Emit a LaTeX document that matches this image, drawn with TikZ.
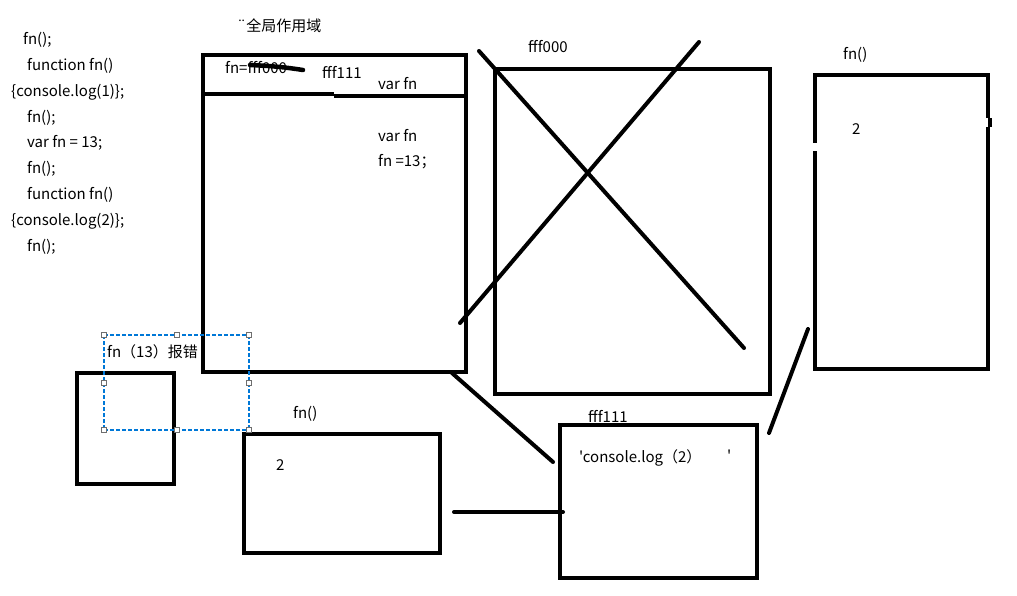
\documentclass[tikz,border=0pt]{standalone}
\usepackage{fontspec}
\newfontfamily\cjk{Noto Sans CJK SC}
\usetikzlibrary{calc}
\definecolor{selblue}{RGB}{0,120,215}
\definecolor{handlegray}{RGB}{110,110,110}

\tikzset{
  box/.style={draw,line width=4.5pt,inner sep=0pt,outer sep=0pt},
  link/.style={line width=4pt,line cap=round},
  txt/.style={anchor=west,inner sep=0pt,font=\cjk\fontsize{15}{17}\selectfont},
  seldash/.style={draw=selblue,dash pattern=on 4pt off 2pt,line width=1.1pt},
  handle/.style={draw=handlegray,fill=white,line width=0.8pt,minimum size=5pt,inner sep=0pt}
}

\begin{document}
\begin{tikzpicture}[x=1pt,y=-1pt]
\useasboundingbox (0,0) rectangle (1017,595);
% code on the left
\foreach \y/\x/\t [count=\i] in {40/23/{fn();},66/27/{function fn()},92/11/{\{console.log(1)\};},118/27/{fn();},143/27/{var fn = 13;},169/27/{fn();},195/27/{function fn()},221/11/{\{console.log(2)\};},247/27/{fn();}}
  \node[txt] (code\i) at (\x,\y) {\t};
% boxes
\node[box,minimum width=263,minimum height=317] (global) at (334.5,213.5) {};
\node[box,minimum width=275,minimum height=325] (old) at (632.5,231.5) {};
\node[box,minimum width=173,minimum height=294] (fnright) at (901.5,222) {};
\node[box,minimum width=197,minimum height=153] (heap) at (658.5,501.5) {};
\node[box,minimum width=196,minimum height=119] (fnmid) at (342,493.5) {};
\node[box,minimum width=97,minimum height=111] (small) at (125.5,428.5) {};
\draw[line width=4.5pt] (203,94)--(334,94) (334,96)--(466,96);
\draw[white,line width=6pt] (815,143)--(815,151);
\fill[white] (984,118) rectangle (987.5,127);\fill (987.5,118) rectangle (992,127);
% labels
\node[txt] (gtitle) at (237,26) {¨全局作用域};
\node[txt] (gfn) at (225,68) {fn=fff000};
\draw[line width=4.5pt,line cap=round] (250,65) .. controls (275,66) and (290,68) .. (303,70);
\node[txt] (gnew) at (322,72) {fff111};
\node[txt] (gvar) at (378,84) {var fn};
\node[txt] (gvar2) at (378,136) {var fn};
\node[txt] (gset) at (378,162) {fn =13；};
\node[txt] (oldlbl) at (528,47) {fff000};
\node[txt] (rlbl) at (843,55) {fn()};
\node[txt] (rval) at (852,129) {2};
\node[txt] (hlbl) at (588,416) {fff111};
\node[txt] (hbody) at (579,458) {'console.log（2）};
\node[txt] (htick) at (727,456) {'};
\node[txt] (mlbl) at (293,414) {fn()};
\node[txt] (mval) at (276,465) {2};
\node[txt] (err) at (107,352) {fn（13）报错};
% crossed out
\draw[link] ($(old.north west)+(-16,-18)$) -- ($(old.south east)+(-26,-46)$);
\draw[link] ($(old.north east)+(-71,-27)$) -- ($(old.south west)+(-35,-71)$);
% connectors
\draw[link] ($(global.south east)+(-14,1)$) -- ($(heap.north west)+(-7,37)$);
\draw[link] ($(fnmid.east)+(14,18.5)$) -- ($(heap.west)+(3,10.5)$);
\draw[link] ($(fnright.south west)+(-7,-40)$) -- ($(heap.north east)+(12,8)$);
% selection frame
\coordinate (sel1) at (104,335);\coordinate (sel2) at (249,335);
\coordinate (sel3) at (249,430);\coordinate (sel4) at (104,430);
\draw[seldash] (sel1)--(sel2);\draw[seldash] (sel2)--(sel3);
\draw[seldash] (sel4)--(sel3);\draw[seldash] (sel1)--(sel4);
\foreach \p in {(sel1),(176.5,335),(sel2),(104,382.5),(249,382.5),(sel4),(176.5,430),(sel3)}
  \node[handle] at \p {};
\end{tikzpicture}
\end{document}
